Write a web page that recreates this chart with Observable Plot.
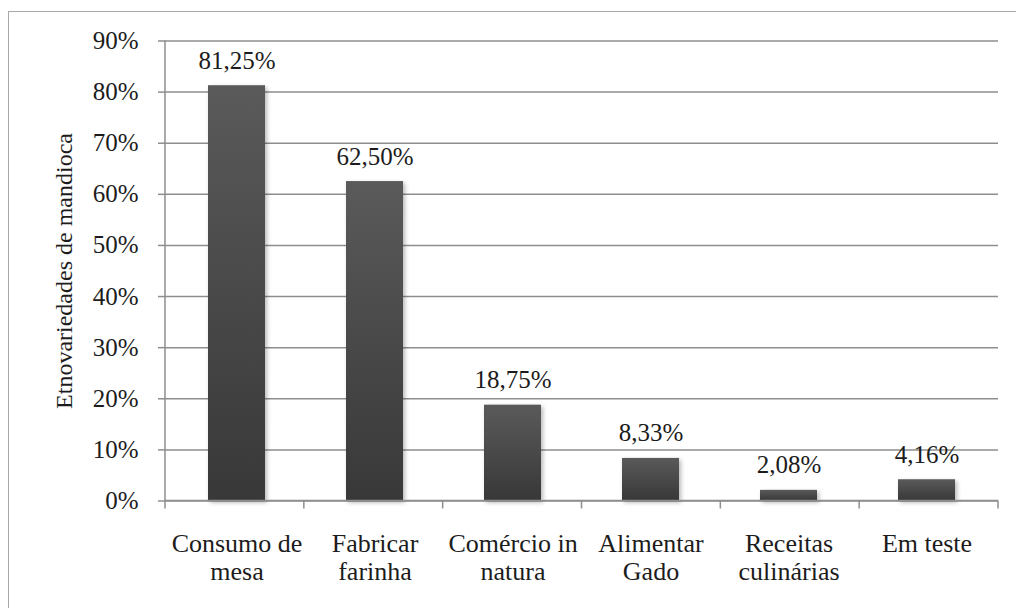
<!DOCTYPE html>
<html>
<head>
<meta charset="utf-8">
<script src="https://cdn.jsdelivr.net/npm/d3@7"></script>
<script src="https://cdn.jsdelivr.net/npm/@observablehq/plot@0.6"></script>
<style>
  html, body { margin: 0; padding: 0; background: #ffffff; }
  #wrap { position: relative; width: 1016px; height: 608px; overflow: hidden; }
  #border {
    position: absolute; left: 8px; top: 11px; width: 1030px; height: 630px;
    border: 1.5px solid #a8a8a8; pointer-events: none;
  }
  #chart svg text { font-family: "Liberation Serif", serif; }
  #chart g[aria-label="bar"] { filter: drop-shadow(2px 2px 2px rgba(0, 0, 0, 0.28)); }
</style>
</head>
<body>
<div id="wrap">
  <div id="chart"></div>
  <div id="border"></div>
</div>
<script>
// Usos das etnovariedades de mandioca (% das etnovariedades)
const categories = [
  "Consumo de\nmesa",
  "Fabricar\nfarinha",
  "Comércio in\nnatura",
  "Alimentar\nGado",
  "Receitas\nculinárias",
  "Em teste"
];
const values = [81.25, 62.50, 18.75, 8.33, 2.08, 4.16];
const yTicks = [0, 10, 20, 30, 40, 50, 60, 70, 80, 90];
const yTitle = "Etnovariedades de mandioca";

const rows = categories.map((c, i) => ({ cat: c, value: values[i] }));
const pct = v => v.toFixed(2).replace(".", ",") + "%";

const serif = "Liberation Serif";
const gridColor = "#8e8e8e";
const textColor = "#1c1c1c";

// gradient used to shade the bars, darker toward the base
function shading() {
  const defs = d3.create("svg:defs");
  const grad = defs.append("linearGradient")
    .attr("id", "barShade")
    .attr("x1", 0).attr("y1", 0).attr("x2", 0).attr("y2", 1);
  grad.append("stop").attr("offset", "0%").attr("stop-color", "#5a5a5a");
  grad.append("stop").attr("offset", "100%").attr("stop-color", "#383838");
  return defs.node();
}

// left and bottom axis lines, plus tick marks at category boundaries
function axisLines(index, scales, values, dims) {
  const g = d3.create("svg:g")
    .attr("stroke", gridColor)
    .attr("stroke-width", 1.5)
    .attr("fill", "none");
  const left = dims.marginLeft;
  const right = dims.width - dims.marginRight;
  const top = dims.marginTop;
  const bottom = dims.height - dims.marginBottom;
  g.append("line").attr("x1", left).attr("x2", left).attr("y1", top).attr("y2", bottom);
  g.append("line").attr("x1", left).attr("x2", right).attr("y1", bottom).attr("y2", bottom);
  const step = (right - left) / categories.length;
  d3.range(categories.length + 1).forEach(i => {
    const x = left + i * step;
    g.append("line").attr("x1", x).attr("x2", x).attr("y1", bottom).attr("y2", bottom + 8);
  });
  return g.node();
}

const chart = Plot.plot({
  width: 1016,
  height: 608,
  marginLeft: 165,
  marginRight: 18,
  marginTop: 40.5,
  marginBottom: 107.5,
  style: { background: "transparent", color: textColor },
  x: { domain: categories, paddingInner: 0.59, paddingOuter: 0.295, label: null },
  y: { domain: [0, 90], label: null },
  marks: [
    shading,
    Plot.ruleY(yTicks, { stroke: gridColor, strokeWidth: 1.5 }),
    Plot.barY(rows, { x: "cat", y: "value", fill: "url(#barShade)" }),
    axisLines,
    Plot.axisY(yTicks, { text: null, tickSize: 7, stroke: gridColor, strokeWidth: 1.5, label: null }),
    Plot.axisY(yTicks, {
      tickSize: 0, tickPadding: 27, tickFormat: d => d + "%",
      fontSize: 25, fontFamily: serif, fontVariant: "normal", fill: textColor, label: null
    }),
    Plot.axisX({
      tickSize: 0, tickPadding: 31, fontSize: 26, lineHeight: 1.07,
      fontFamily: serif, fill: textColor, label: null
    }),
    Plot.text(rows, {
      x: "cat", y: "value", text: d => pct(d.value),
      lineAnchor: "bottom", dy: -17, fontSize: 25, fontFamily: serif, fill: textColor
    }),
    Plot.text([yTitle], {
      frameAnchor: "left", textAnchor: "middle", rotate: -90, dx: -101,
      fontSize: 24, fontFamily: serif, fill: textColor
    })
  ]
});

document.getElementById("chart").appendChild(chart);
</script>
</body>
</html>
